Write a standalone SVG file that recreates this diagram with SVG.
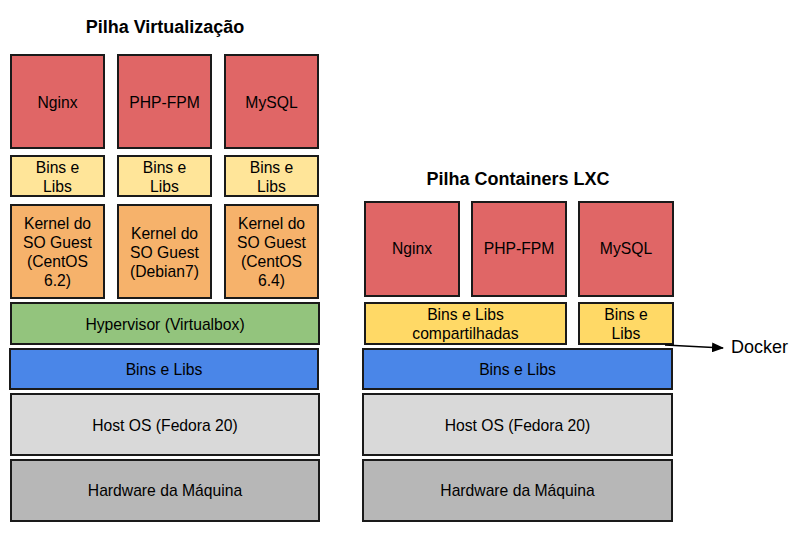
<svg xmlns="http://www.w3.org/2000/svg" width="804" height="535" viewBox="0 0 804 535">
<defs>
<style>
rect{stroke:#1a1a1a;stroke-width:2}
text{font-family:"Liberation Sans",Arial,sans-serif;font-size:15.7px;fill:#000;text-anchor:middle}
.t{font-weight:bold;font-size:18px}
.red{fill:#e06666}.ly{fill:#ffe599}.or{fill:#f6b26b}.gr{fill:#93c47d}.bl{fill:#4a86e8}.lg{fill:#d9d9d9}.dg{fill:#b7b7b7}.yl{fill:#ffd966}
</style>
<marker id="ah" viewBox="0 0 12 10" refX="11" refY="5" markerWidth="12" markerHeight="10" markerUnits="userSpaceOnUse" orient="auto"><path d="M0,0 L12,5 L0,10 z" fill="#000"/></marker>
</defs>
<text class="t" x="165" y="33">Pilha Virtualização</text>
<text class="t" x="518" y="185">Pilha Containers LXC</text>

<g id="v-nginx"><rect class="red" x="11" y="55" width="93" height="93"/><text x="57.5" y="108">Nginx</text></g>
<g id="v-php"><rect class="red" x="118" y="55" width="93" height="93"/><text x="164.5" y="108">PHP-FPM</text></g>
<g id="v-mysql"><rect class="red" x="225" y="55" width="93" height="93"/><text x="271.5" y="108">MySQL</text></g>
<g id="v-bins1"><rect class="ly" x="11" y="156" width="93" height="40"/><text x="57.5" y="173">Bins e</text><text x="57.5" y="192">Libs</text></g>
<g id="v-bins2"><rect class="ly" x="118" y="156" width="93" height="40"/><text x="164.5" y="173">Bins e</text><text x="164.5" y="192">Libs</text></g>
<g id="v-bins3"><rect class="ly" x="225" y="156" width="93" height="40"/><text x="271.5" y="173">Bins e</text><text x="271.5" y="192">Libs</text></g>
<g id="v-k1"><rect class="or" x="11" y="205" width="93" height="93"/><text x="57.5" y="229">Kernel do</text><text x="57.5" y="248">SO Guest</text><text x="57.5" y="267">(CentOS</text><text x="57.5" y="286">6.2)</text></g>
<g id="v-k2"><rect class="or" x="118" y="205" width="93" height="93"/><text x="164.5" y="239">Kernel do</text><text x="164.5" y="258">SO Guest</text><text x="164.5" y="277">(Debian7)</text></g>
<g id="v-k3"><rect class="or" x="225" y="205" width="93" height="93"/><text x="271.5" y="229">Kernel do</text><text x="271.5" y="248">SO Guest</text><text x="271.5" y="267">(CentOS</text><text x="271.5" y="286">6.4)</text></g>
<g id="v-hyp"><rect class="gr" x="11" y="303" width="308" height="41"/><text x="165" y="330">Hypervisor (Virtualbox)</text></g>
<g id="v-bins"><rect class="bl" x="10" y="349" width="308" height="40"/><text x="164" y="375">Bins e Libs</text></g>
<g id="v-host"><rect class="lg" x="11" y="394" width="308" height="61"/><text x="165" y="431">Host OS (Fedora 20)</text></g>
<g id="v-hw"><rect class="dg" x="11" y="460" width="308" height="61"/><text x="165" y="496">Hardware da Máquina</text></g>

<g id="c-nginx"><rect class="red" x="365" y="202" width="94" height="94"/><text x="412" y="254">Nginx</text></g>
<g id="c-php"><rect class="red" x="472" y="202" width="94" height="94"/><text x="519" y="254">PHP-FPM</text></g>
<g id="c-mysql"><rect class="red" x="579" y="202" width="94" height="94"/><text x="626" y="254">MySQL</text></g>
<g id="c-shared"><rect class="yl" x="365" y="303" width="201" height="41"/><text x="465.5" y="320">Bins e Libs</text><text x="465.5" y="339">compartilhadas</text></g>
<g id="c-bins"><rect class="yl" x="579" y="303" width="94" height="41"/><text x="626" y="320">Bins e</text><text x="626" y="339">Libs</text></g>
<g id="c-blue"><rect class="bl" x="363" y="349" width="309" height="40"/><text x="517.5" y="375">Bins e Libs</text></g>
<g id="c-host"><rect class="lg" x="363" y="394" width="309" height="61"/><text x="517.5" y="431">Host OS (Fedora 20)</text></g>
<g id="c-hw"><rect class="dg" x="363" y="460" width="309" height="61"/><text x="517.5" y="496">Hardware da Máquina</text></g>

<g id="connectors"><line x1="665" y1="345" x2="723" y2="348" stroke="#000" stroke-width="1.5" marker-end="url(#ah)"/></g>
<g id="docker"><text x="731" y="353" style="text-anchor:start;font-size:18px">Docker</text></g>
</svg>
